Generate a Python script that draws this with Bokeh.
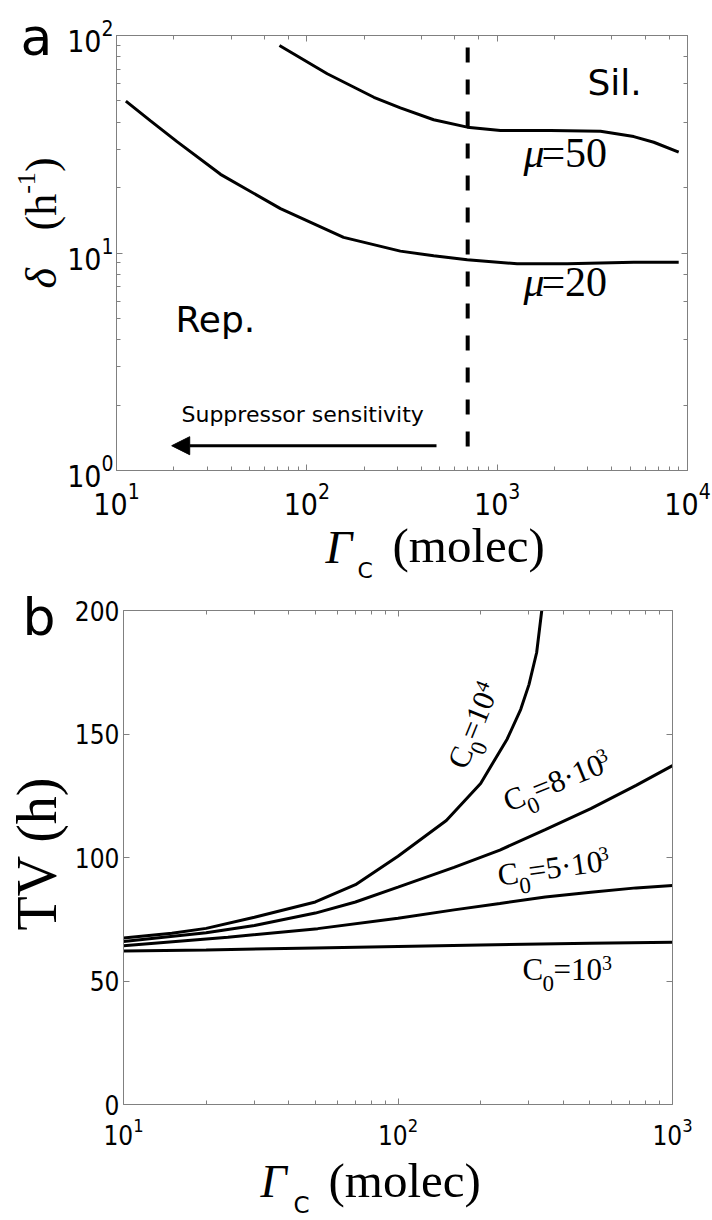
import math
from bokeh.plotting import figure
from bokeh.layouts import column
from bokeh.models import (Range1d, Label, Arrow, NormalHead, LogAxis, LinearAxis, FixedTicker)
from bokeh.embed import file_html
from bokeh.resources import INLINE

# ---------------- data: panel a ----------------
mu20_gamma = [11.2, 15.1, 20.8, 35.2, 72.7, 156, 310, 464, 696, 1273, 2333, 5220, 8990]
mu20_delta = [49.9, 40.5, 32.5, 23.0, 16.0, 11.8, 10.2, 9.71, 9.30, 8.92, 8.92, 9.07, 9.07]
mu50_gamma = [71.8, 128, 225, 310, 464, 696, 1041, 1906, 3490, 5220, 6650, 8990]
mu50_delta = [90.0, 66.7, 52.0, 46.5, 41.0, 37.9, 36.6, 36.6, 36.3, 34.3, 32.3, 29.1]
threshold_gamma = [700, 700]
threshold_delta = [88, 1.15]
arrow_gamma = [480, 19.5]      # tail, tip
arrow_delta = 1.30

# ---------------- data: panel b ----------------
tv_gamma_1e4 = [10, 15, 20, 30, 50, 70, 100, 150, 200, 250, 280, 300, 320, 334]
tv_1e4 = [67.4, 69.3, 71.3, 75.8, 82.0, 89.0, 100.5, 115.0, 130.0, 148.0, 160.0, 170.0, 183.0, 200.0]
tv_gamma_8e3 = [10, 20, 30, 50, 70, 100, 160, 235, 344, 504, 737, 1000]
tv_8e3 = [66.0, 69.5, 72.5, 77.5, 82.0, 88.0, 96.0, 103.0, 111.3, 119.8, 129.2, 137.2]
tv_gamma_5e3 = [10, 24, 51, 100, 160, 235, 344, 504, 737, 1000]
tv_5e3 = [64.3, 67.7, 71.2, 75.4, 78.8, 81.4, 84.0, 85.9, 87.7, 88.7]
tv_gamma_1e3 = [10, 20, 50, 100, 200, 500, 1000]
tv_1e3 = [62.1, 62.6, 63.4, 64.0, 64.6, 65.3, 65.7]
tv_yticks = [0, 50, 100, 150, 200]
tv_xticks = [10, 100, 1000]
tv_xminor = [m * 10 ** e for e in (1, 2) for m in range(2, 10)]

GRAY = "#808080"
SERIF = "Liberation Serif"
SANS = "DejaVu Sans"
TICKFONT = "DejaVu Sans Condensed, DejaVu Sans"
BASE_FIX = 0.36   # lift so that the given point is the glyphs' baseline


def style_axis(ax, size, standoff, labels=True):
    ax.axis_line_color = GRAY
    ax.axis_line_width = 1
    ax.major_tick_in = 6
    ax.major_tick_out = 0
    ax.minor_tick_in = 4
    ax.minor_tick_out = 0
    ax.major_tick_line_color = GRAY
    ax.minor_tick_line_color = GRAY
    ax.major_label_text_font = TICKFONT
    if labels:
        ax.major_label_text_color = "black"
        ax.major_label_text_font_size = f"{size}px"
        ax.major_label_standoff = standoff
    else:
        ax.major_label_text_color = None
        ax.major_label_text_font_size = "1px"
        ax.major_label_standoff = 0


def rich(p, x, y, pieces, angle_deg=0.0, units="data"):
    th = math.radians(angle_deg)
    c, s = math.cos(th), math.sin(th)
    for text, along, up, size, font, style in pieces:
        up = up + BASE_FIX * size
        dx = along * c - up * s
        dy = along * s + up * c
        p.add_layout(Label(x=x, y=y, x_units=units, y_units=units,
                           x_offset=dx, y_offset=dy, text=text, angle=th,
                           text_font=font, text_font_size=f"{size}px",
                           text_font_style=style, text_color="black",
                           text_baseline="alphabetic", text_align="left"))


def view_range(lo, hi, px_lo, px_hi, total, log):
    """Range so that the box [lo, hi] lands on pixels px_lo..px_hi of a frame `total` px long."""
    if log:
        lo, hi = math.log10(lo), math.log10(hi)
    per = (px_hi - px_lo) / (hi - lo)
    start = lo - px_lo / per
    end = start + total / per
    return Range1d(10 ** start, 10 ** end) if log else Range1d(start, end)


def base_fig(w, h, xr, yr, ytype):
    p = figure(width=w, height=h, x_axis_type="log", y_axis_type=ytype,
               x_range=xr, y_range=yr, output_backend="svg",
               toolbar_location=None, min_border=0)
    p.xgrid.visible = False
    p.ygrid.visible = False
    p.outline_line_color = None
    p.background_fill_color = "white"
    p.border_fill_color = "white"
    return p


SPLIT = 584          # page row where panel b's canvas starts
PAGE_H = 1220

# ================= panel a =================
WA, HA = 712, SPLIT
pa = base_fig(WA, HA,
              view_range(10, 1e4, 116, 687, WA, True),
              view_range(1, 100, HA - 470, HA - 35, HA, True), "log")
xa = pa.xaxis[0]
xa.fixed_location = 1
xa.bounds = (10, 1e4)
style_axis(xa, 30, 11)
ya = pa.yaxis[0]
ya.fixed_location = 10
ya.bounds = (1, 100)
style_axis(ya, 30, 3)
top_a = LogAxis(fixed_location=100, bounds=(10, 1e4))
right_a = LogAxis(fixed_location=1e4, bounds=(1, 100))
style_axis(top_a, 0, 0, labels=False)
style_axis(right_a, 0, 0, labels=False)
pa.add_layout(top_a, "above")
pa.add_layout(right_a, "right")

pa.line(mu20_gamma, mu20_delta, line_width=3, color="black")
pa.line(mu50_gamma, mu50_delta, line_width=3, color="black")
pa.line(threshold_gamma, threshold_delta, line_width=4, color="black", line_dash="15 17")
pa.add_layout(Arrow(end=NormalHead(size=18, fill_color="black", line_color="black"),
                    x_start=arrow_gamma[0], y_start=arrow_delta,
                    x_end=arrow_gamma[1], y_end=arrow_delta,
                    line_width=3, line_color="black"))

rich(pa, 2983, 53.0, [("Sil.", 0, 0, 36, SANS, "normal")])
rich(pa, 20.4, 4.31, [("Rep.", 0, 0, 36, SANS, "normal")])
rich(pa, 21.95, 1.663, [("Suppressor sensitivity", 0, 0, 22, SANS, "normal")])
rich(pa, 1374, 24.5, [("μ", 0, 0, 42, SERIF, "italic"), ("=50", 18, 0, 42, SERIF, "normal")])
rich(pa, 1374, 6.24, [("μ", 0, 0, 42, SERIF, "italic"), ("=20", 18, 0, 42, SERIF, "normal")])

# panel letter and axis titles (screen px from the canvas' bottom-left)
rich(pa, 20, HA - 55, [("a", 0, 0, 52, SANS, "normal")], units="screen")
rich(pa, 57, HA - 288, [("δ", 0, 0, 44, SERIF, "italic"),
                        ("(h", 58, 0, 44, SERIF, "normal"),
                        ("-1", 94.7, 22, 26, SERIF, "normal"),
                        (")", 116.4, 0, 44, SERIF, "normal")], angle_deg=90, units="screen")
rich(pa, 325, HA - 563, [("Γ", 0, 0, 47, SERIF, "italic"),
                         ("C", 32, -15, 22, SANS, "normal"),
                         ("(molec)", 67, 0, 49, SERIF, "normal")], units="screen")

# ================= panel b =================
WB, HB = 712, PAGE_H - SPLIT
pb = base_fig(WB, HB,
              view_range(10, 1e3, 123, 672, WB, True),
              view_range(0, 200, PAGE_H - 1104, PAGE_H - 610, HB, False), "linear")
xb = pb.xaxis[0]
xb.fixed_location = 0
xb.bounds = (10, 1e3)
xb.ticker = FixedTicker(ticks=tv_xticks, minor_ticks=tv_xminor)
style_axis(xb, 26, 12)
yb = pb.yaxis[0]
yb.fixed_location = 10
yb.bounds = (0, 200)
yb.ticker = FixedTicker(ticks=tv_yticks)
style_axis(yb, 26, 4)
top_b = LogAxis(fixed_location=200, bounds=(10, 1e3),
                ticker=FixedTicker(ticks=tv_xticks, minor_ticks=tv_xminor))
right_b = LinearAxis(fixed_location=1e3, bounds=(0, 200), ticker=FixedTicker(ticks=tv_yticks))
style_axis(top_b, 0, 0, labels=False)
style_axis(right_b, 0, 0, labels=False)
pb.add_layout(top_b, "above")
pb.add_layout(right_b, "right")

pb.line(tv_gamma_1e4, tv_1e4, line_width=3, color="black")
pb.line(tv_gamma_8e3, tv_8e3, line_width=3, color="black")
pb.line(tv_gamma_5e3, tv_5e3, line_width=3, color="black")
pb.line(tv_gamma_1e3, tv_1e3, line_width=3, color="black")


def c0_label(x, y, mid, sup, angle):
    mid_w = {"=10": 48.5, "=5·10": 71.7, "=8·10": 71.7}[mid]
    rich(pb, x, y, [("C", 0, 0, 31, SERIF, "normal"),
                    ("0", 20, -11, 23, SERIF, "normal"),
                    (mid, 31, 0, 31, SERIF, "normal"),
                    (sup, 31 + mid_w, 11, 20, SERIF, "normal")], angle_deg=angle)


c0_label(284, 50.0, "=10", "3", 0)
c0_label(234, 88.3, "=5·10", "3", 8)
c0_label(253, 118.2, "=8·10", "3", 22)
c0_label(178, 135.0, "=10", "4", 68)

rich(pb, 22, PAGE_H - 635, [("b", 0, 0, 52, SANS, "normal")], units="screen")
rich(pb, 57, PAGE_H - 930, [("TV (h)", 0, 0, 56, SERIF, "normal")], angle_deg=90, units="screen")
rich(pb, 260, PAGE_H - 1198, [("Γ", 0, 0, 46, SERIF, "italic"),
                              ("C", 33, -15, 23, SANS, "normal"),
                              ("(molec)", 68, 0, 49, SERIF, "normal")], units="screen")

layout = column(pa, pb, spacing=0)
open("out.html", "w").write(file_html(layout, INLINE))
